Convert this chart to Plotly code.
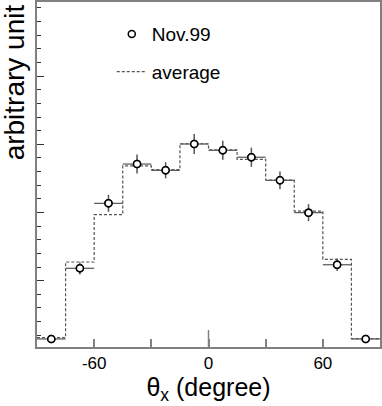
import plotly.graph_objects as go

# bin edges / centres of theta_x (degree)
edges = [-90, -75, -60, -45, -30, -15, 0, 15, 30, 45, 60, 75, 90]
centers = [-82.5, -67.5, -52.5, -37.5, -22.5, -7.5, 7.5, 22.5, 37.5, 52.5, 67.5, 82.5]
half_width = [7.5] * 12

# Nov.99 measurement and its errors
nov99 = [0.73, 5.91, 10.67, 13.55, 13.09, 15.02, 14.56, 14.05, 12.36, 9.99, 6.17, 0.73]
nov99_err = [0.15, 0.45, 0.62, 0.70, 0.59, 0.73, 0.70, 0.70, 0.65, 0.62, 0.45, 0.15]

# average histogram
average = [0.82, 6.37, 9.84, 13.42, 13.14, 15.04, 14.60, 13.90, 12.38, 10.10, 6.57, 0.76]

FONT = "Liberation Sans, Arial, sans-serif"
GRAY = "#808080"

fig = go.Figure()

fig.add_trace(go.Scatter(
    x=centers, y=nov99, mode="markers", name="Nov.99", legendgroup="a",
    marker=dict(symbol="circle-open", size=7, color="black", line=dict(width=1.5)),
    error_y=dict(type="data", array=nov99_err, color="#555555", thickness=1.5, width=0),
    error_x=dict(type="data", array=half_width, color="#555555", thickness=1.2, width=0),
))
fig.add_trace(go.Scatter(
    x=edges, y=average + [average[-1]], mode="lines", name="average", legendgroup="b",
    line=dict(shape="hv", color="#555555", width=1.2, dash="3px,2px"),
))
# redraw markers with white fill on top of the lines
fig.add_trace(go.Scatter(
    x=centers, y=nov99, mode="markers", showlegend=False,
    marker=dict(symbol="circle", size=7, color="white", line=dict(width=1.5, color="black")),
))

fig.update_layout(
    width=382, height=406,
    margin=dict(l=37, r=2, t=2, b=59),
    paper_bgcolor="white", plot_bgcolor="white",
    font=dict(family=FONT, color="black"),
    showlegend=True,
    legend=dict(x=0.218, y=0.962, xanchor="left", yanchor="top",
                bgcolor="rgba(0,0,0,0)", font=dict(size=19),
                itemwidth=30, tracegroupgap=10),
)
fig.update_xaxes(
    range=[-90, 90], showgrid=False, zeroline=False, automargin=False,
    showline=True, linecolor=GRAY, linewidth=1.5, mirror=True,
    tickmode="array", tickvals=[-60, 0, 60], ticktext=["-60", "0", "60"],
    ticks="inside", ticklen=8, tickcolor=GRAY, tickwidth=1.5,
    minor=dict(tickmode="array", tickvals=[-30, 30], ticks="inside", ticklen=8,
               tickcolor=GRAY, tickwidth=1.5),
    tickfont=dict(size=17), ticklabelstandoff=0,
    title=dict(text="θ<sub>x</sub> (degree)", font=dict(size=25), standoff=4),
)
fig.update_yaxes(
    range=[0.14, 25.43], showgrid=False, zeroline=False, automargin=False,
    showline=True, linecolor=GRAY, linewidth=1.5, mirror=True,
    tickmode="array", tickvals=[5, 10, 15, 20], showticklabels=False,
    ticks="inside", ticklen=7, tickcolor="#333333", tickwidth=1.2,
    minor=dict(tickmode="linear", tick0=0, dtick=1, ticks="inside", ticklen=4,
               tickcolor="#333333", tickwidth=1.2),
)
# longer tick at 0
fig.add_shape(type="line", xref="x", yref="y domain", x0=0, x1=0, y0=0, y1=17 / 345,
              line=dict(color=GRAY, width=1.5))
fig.add_annotation(text="arbitrary unit", xref="paper", yref="paper",
                   x=-0.066, y=1.0, xanchor="center", yanchor="top",
                   textangle=-90, showarrow=False, font=dict(size=28))

fig.write_html("out.html", config={"displayModeBar": False},
               post_script="document.body.style.margin='0';")
